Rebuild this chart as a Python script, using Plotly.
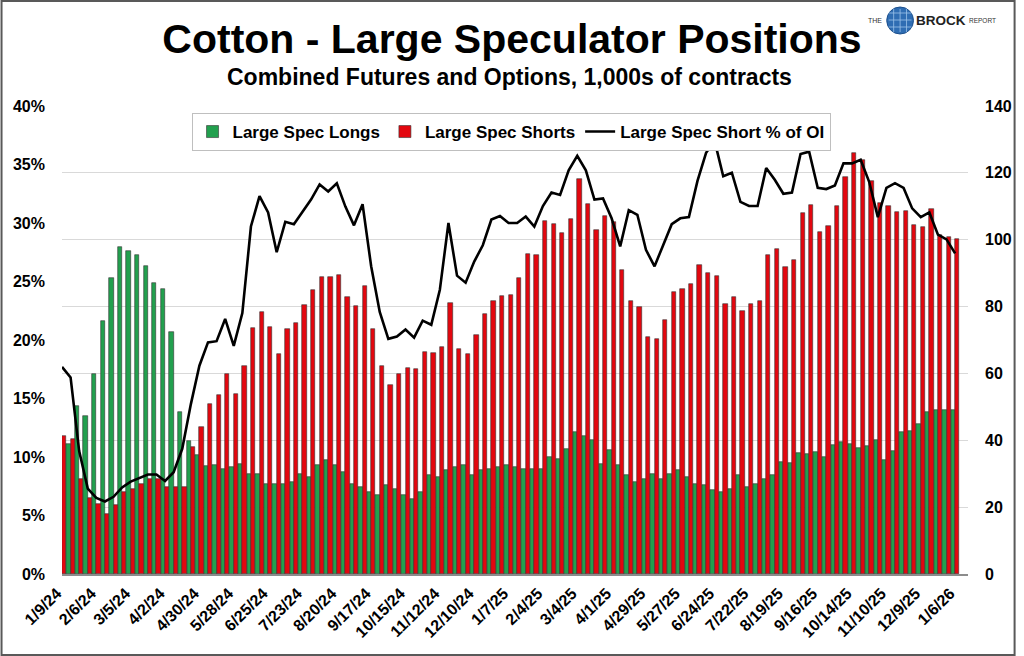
import plotly.graph_objects as go

# ---------------- data ----------------
tick_labels = ["1/9/24", "2/6/24", "3/5/24", "4/2/24", "4/30/24", "5/28/24", "6/25/24",
               "7/23/24", "8/20/24", "9/17/24", "10/15/24", "11/12/24", "12/10/24",
               "1/7/25", "2/4/25", "3/4/25", "4/1/25", "4/29/25", "5/27/25", "6/24/25",
               "7/22/25", "8/19/25", "9/16/25", "10/14/25", "11/10/25", "12/9/25", "1/6/26"]
tick_index = [0, 4, 8, 12, 16, 20, 24, 28, 32, 36, 40, 44, 48, 52, 56, 60, 64, 68, 72,
              76, 80, 84, 88, 92, 96, 100, 104]

# Large spec longs (1,000s of contracts), weekly
longs = [40.0, 38.9, 50.3, 47.3, 59.7, 75.8, 88.4, 97.9, 96.6, 95.4,
         92.1, 87.0, 85.3, 72.3, 48.4, 39.8, 35.6, 32.3, 32.6, 31.4,
         32.0, 33.0, 30.0, 30.0, 27.0, 27.0, 27.0, 27.5, 30.0, 29.0,
         32.5, 34.0, 32.5, 30.5, 27.0, 26.0, 24.5, 23.5, 26.5, 25.5,
         23.5, 22.5, 24.5, 29.5, 29.0, 31.0, 32.0, 32.5, 29.5, 31.0,
         31.5, 32.0, 32.5, 32.0, 31.5, 31.5, 31.5, 35.0, 34.5, 37.5,
         42.5, 41.3, 40.2, 33.0, 37.0, 32.5, 29.5, 27.5, 28.5, 30.0,
         28.5, 30.0, 31.0, 29.0, 27.0, 26.5, 25.0, 24.5, 25.5, 29.5,
         26.0, 27.0, 28.5, 29.5, 33.6, 33.1, 36.1, 35.8, 36.5, 34.9,
         38.5, 39.6, 38.9, 37.8, 38.3, 40.1, 34.1, 36.8, 42.6, 42.9,
         44.9, 48.4, 49.1, 49.2, 49.1]

# Large spec shorts (1,000s of contracts), weekly
shorts = [41.4, 40.5, 28.3, 22.6, 20.8, 17.9, 20.6, 24.4, 25.3, 26.9,
          28.4, 28.4, 26.1, 25.9, 25.9, 38.1, 44.1, 50.9, 53.5, 59.8,
          53.8, 62.2, 73.6, 78.4, 74.0, 65.7, 73.3, 75.0, 80.4, 85.0,
          88.9, 88.9, 89.4, 82.9, 80.2, 86.1, 73.3, 62.1, 56.5, 59.8,
          61.7, 61.3, 66.4, 66.1, 67.9, 81.0, 67.3, 65.9, 71.4, 77.7,
          81.6, 83.3, 83.6, 88.6, 95.6, 95.3, 105.7, 104.6, 101.9, 106.1,
          118.2, 110.7, 102.9, 107.1, 105.3, 90.9, 81.7, 79.9, 70.8, 70.2,
          76.1, 84.3, 85.2, 86.8, 92.4, 89.9, 89.2, 80.7, 82.9, 78.8,
          80.7, 81.7, 95.5, 97.2, 91.9, 93.8, 108.1, 110.5, 102.3, 104.0,
          110.1, 118.9, 126.0, 123.8, 117.6, 111.1, 110.1, 108.3, 108.5, 104.5,
          103.7, 109.1, 101.5, 100.9, 100.3]

# Large spec short % of open interest
short_pct = [17.7, 16.8, 10.5, 7.3, 6.5, 6.2, 6.6, 7.4, 7.9, 8.2,
             8.5, 8.5, 7.95, 8.7, 10.7, 14.5, 17.8, 19.8, 19.9, 21.8,
             19.5, 22.3, 29.7, 32.3, 30.9, 27.5, 30.1, 29.9, 30.9, 32.0,
             33.3, 32.7, 33.4, 31.4, 29.8, 31.6, 26.3, 22.4, 20.1, 20.3,
             20.9, 20.2, 21.65, 21.3, 24.3, 30.0, 25.5, 24.9, 26.7, 28.1,
             30.3, 30.6, 30.0, 30.0, 30.55, 29.7, 31.45, 32.6, 32.4, 34.5,
             35.75, 34.5, 32.0, 32.1, 30.4, 28.0, 31.1, 30.7, 27.7, 26.3,
             28.1, 29.9, 30.4, 30.5, 33.6, 36.0, 37.0, 34.0, 34.3, 31.8,
             31.45, 31.45, 34.7, 33.7, 32.5, 32.6, 35.9, 36.1, 33.0, 32.9,
             33.2, 35.1, 35.1, 35.4, 33.5, 30.5, 33.0, 33.4, 33.0, 31.25,
             30.5, 30.9, 29.0, 28.6, 27.4]

week = list(range(len(shorts)))

# ---------------- styling ----------------
FONT = "Liberation Sans, Arial, Helvetica, sans-serif"
GREEN = "#22a04e"
RED = "#e3070f"

fig = go.Figure()
fig.add_trace(go.Bar(x=week, y=longs, name="Large Spec Longs",
                     marker=dict(color=GREEN, line=dict(color="#333333", width=0.6)),
                     yaxis="y"))
fig.add_trace(go.Bar(x=week, y=shorts, name="Large Spec Shorts",
                     marker=dict(color=RED, line=dict(color="#333333", width=0.6)),
                     yaxis="y"))
fig.add_trace(go.Scatter(x=week, y=short_pct, name="Large Spec Short % of OI",
                         mode="lines", line=dict(color="black", width=2.6),
                         yaxis="y2"))

L, R, T, B = 62, 48, 106, 82
W, H = 1024, 656
pw, ph = W - L - R, H - T - B


def px(x):
    return (x - L) / pw


def py(y):
    return (H - B - y) / ph


fig.update_layout(
    width=W, height=H,
    margin=dict(l=L, r=R, t=T, b=B),
    paper_bgcolor="white", plot_bgcolor="white",
    barmode="group", bargap=0, bargroupgap=0,
    font=dict(family=FONT, color="black"),
    title=dict(text="Cotton - Large Speculator Positions", x=0.5, xanchor="center",
               y=(H - 39) / H, yanchor="middle",
               font=dict(family=FONT, size=41, weight="bold", color="black")),
    xaxis=dict(range=[0, 105.5], tickvals=tick_index, ticktext=tick_labels,
               tickangle=-45, tickfont=dict(family=FONT, size=16, weight="bold"),
               ticklabelshift=-5, ticklabelstandoff=2,
               showgrid=False, zeroline=False, showline=True,
               linecolor="#8c8c8c", linewidth=1.5, ticks=""),
    yaxis=dict(range=[0, 140], dtick=20, side="right",
               showgrid=True, gridcolor="#d9d9d9", gridwidth=1,
               zeroline=False, showline=False, ticks="",
               ticklabelstandoff=16,
               tickfont=dict(family=FONT, size=16, weight="bold")),
    yaxis2=dict(range=[0, 40], dtick=5, ticksuffix="%", side="left",
                overlaying="y", showgrid=False, zeroline=False, ticks="",
                ticklabelstandoff=16,
                tickfont=dict(family=FONT, size=16, weight="bold")),
    legend=dict(orientation="h", x=px(515), xanchor="center", y=py(113), yanchor="top",
                bgcolor="white", bordercolor="#bfbfbf", borderwidth=1,
                font=dict(family=FONT, size=17, weight="bold"),
                traceorder="normal", itemwidth=30),
    showlegend=True,
)

# subtitle
fig.add_annotation(text="Combined Futures and Options, 1,000s of contracts",
                   xref="paper", yref="paper", x=px(513), y=py(77),
                   xanchor="center", yanchor="middle", showarrow=False,
                   font=dict(family=FONT, size=23, weight="bold", color="black"))

# logo
fig.add_shape(type="circle", xref="paper", yref="paper",
              x0=px(894), x1=px(921), y0=py(34), y1=py(7),
              fillcolor="#2f6db3", line=dict(color="#1c4f8c", width=1))
for yy in (13, 20, 27):
    fig.add_shape(type="line", xref="paper", yref="paper",
                  x0=px(896), x1=px(919), y0=py(yy), y1=py(yy),
                  line=dict(color="#9cc3ea", width=0.8))
for xx in (901, 907.5, 914):
    fig.add_shape(type="line", xref="paper", yref="paper",
                  x0=px(xx), x1=px(xx), y0=py(9), y1=py(32),
                  line=dict(color="#9cc3ea", width=0.8))
fig.add_annotation(text="THE", xref="paper", yref="paper", x=px(891), y=py(21),
                   xanchor="right", yanchor="middle", showarrow=False,
                   font=dict(family=FONT, size=7, color="#333333"))
fig.add_annotation(text="BROCK", xref="paper", yref="paper", x=px(922), y=py(21),
                   xanchor="left", yanchor="middle", showarrow=False,
                   font=dict(family=FONT, size=13.5, weight="bold", color="#222222"))
fig.add_annotation(text="REPORT", xref="paper", yref="paper", x=px(975), y=py(21),
                   xanchor="left", yanchor="middle", showarrow=False,
                   font=dict(family=FONT, size=6.5, color="#333333"))

# outer frame
fig.add_shape(type="rect", xref="paper", yref="paper",
              x0=px(1), x1=px(W - 1), y0=py(H - 1), y1=py(1),
              line=dict(color="#595959", width=2), fillcolor="rgba(0,0,0,0)")

fig.write_html("out.html",
               config={"displayModeBar": False},
               post_script="document.body.style.margin='0px';"
                           "document.body.style.overflow='hidden';")
